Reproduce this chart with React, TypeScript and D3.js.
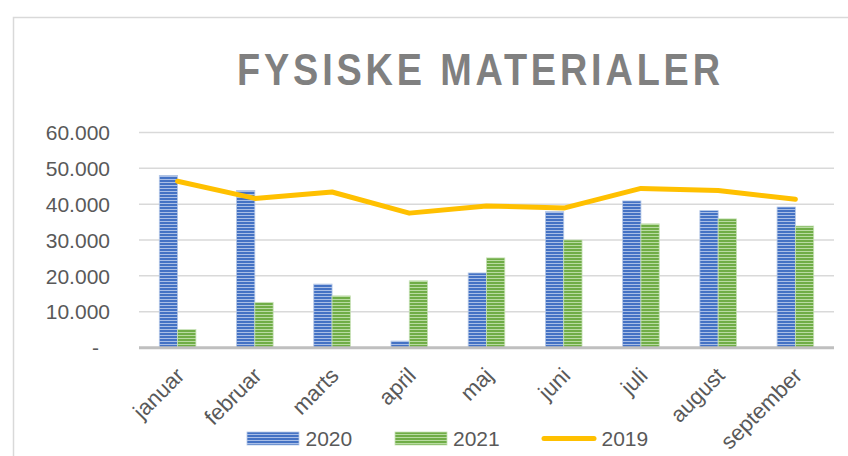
import React from "react";
import * as d3 from "d3";

const months = ["januar", "februar", "marts", "april", "maj", "juni", "juli", "august", "september"];
const values2020 = [48000, 43800, 17700, 1800, 20800, 37900, 40900, 38200, 39200];
const values2021 = [5000, 12600, 14400, 18600, 25000, 30000, 34500, 35900, 33900];
const values2019 = [46400, 41600, 43400, 37500, 39500, 38900, 44400, 43800, 41400];
const yTicks = [0, 10000, 20000, 30000, 40000, 50000, 60000];
const barSeries = ["2020", "2021"];
const title = "FYSISKE MATERIALER";

const W = 848;
const H = 456;
const plotLeft = 139;
const plotRight = 834;
const plotTop = 132.5;
const plotBottom = 347.5;

const FONT = "'Liberation Sans', Arial, sans-serif";
const TEXT = "#595959";

const locale = d3.formatLocale({ decimal: ",", thousands: ".", grouping: [3], currency: ["", ""] });
const fmt = locale.format(",.0f");

export default function App() {
  const x = d3.scaleBand<string>().domain(months).range([plotLeft, plotRight]).paddingInner(0).paddingOuter(0);
  const y = d3.scaleLinear().domain([0, 60000]).range([plotBottom, plotTop]);
  const bw = x.bandwidth() * 0.237;
  const x1 = d3.scaleBand<string>().domain(barSeries).range([-bw, bw]);
  const center = (m: string) => (x(m) as number) + x.bandwidth() / 2;

  const line = d3
    .line<number>()
    .x((_, i) => center(months[i]))
    .y((d) => y(d));

  const seriesData: Record<string, number[]> = { "2020": values2020, "2021": values2021 };
  const fills: Record<string, string> = { "2020": "url(#pBlue)", "2021": "url(#pGreen)" };
  const strokes: Record<string, string> = { "2020": "#B4C7E7", "2021": "#C5E0B4" };

  const titleCx = 478.5;
  const titleSx = 0.86;

  return (
    <div style={{ position: "fixed", left: 0, top: 0, width: W, height: H, background: "#fff" }}>
      <svg width={W} height={H} style={{ display: "block" }}>
        <defs>
          <pattern id="pBlue" width={6} height={3} patternUnits="userSpaceOnUse">
            <rect width={6} height={3} fill="#4472C4" />
            <rect y={2} width={6} height={1} fill="#A9BEE6" />
          </pattern>
          <pattern id="pGreen" width={6} height={3} patternUnits="userSpaceOnUse">
            <rect width={6} height={3} fill="#70AD47" />
            <rect y={2} width={6} height={1} fill="#B9DBA2" />
          </pattern>
        </defs>
        <rect x={0} y={0} width={W} height={H} fill="#fff" />
        <rect x={13.5} y={17.5} width={W + 20} height={H + 20} fill="none" stroke="#D9D9D9" strokeWidth={1.5} />

        <g transform={`translate(${titleCx} 0) scale(${titleSx} 1)`}>
          <text
            x={0}
            y={85}
            textAnchor="middle"
            fontFamily={FONT}
            fontWeight="bold"
            fontSize={44}
            fill="#808080"
            textLength={483 / titleSx}
            lengthAdjust="spacing"
          >
            {title}
          </text>
        </g>

        {yTicks.map((t) =>
          t === 0 ? null : (
            <line key={"g" + t} x1={plotLeft} x2={plotRight} y1={y(t)} y2={y(t)} stroke="#D9D9D9" strokeWidth={1.5} />
          )
        )}
        {yTicks.map((t) => (
          <text
            key={"t" + t}
            x={t === 0 ? 99 : 110}
            y={y(t) + 7.7}
            textAnchor="end"
            fontFamily={FONT}
            fontSize={21}
            fill={TEXT}
          >
            {t === 0 ? "-" : fmt(t)}
          </text>
        ))}

        {barSeries.map((s) =>
          months.map((m, i) => {
            const v = seriesData[s][i];
            const bx = center(m) + (x1(s) as number);
            return (
              <rect
                key={s + m}
                x={bx}
                y={y(v)}
                width={x1.bandwidth()}
                height={plotBottom - y(v)}
                fill={fills[s]}
                stroke={strokes[s]}
                strokeWidth={0.8}
              />
            );
          })
        )}

        <line x1={plotLeft} x2={plotRight} y1={347.7} y2={347.7} stroke="#BFBFBF" strokeWidth={3} />

        <path
          d={line(values2019) || ""}
          fill="none"
          stroke="#FFC000"
          strokeWidth={5}
          strokeLinejoin="round"
          strokeLinecap="round"
        />

        {months.map((m) => {
          const px = center(m) + 8;
          const py = 377;
          return (
            <text
              key={"x" + m}
              x={px}
              y={py}
              transform={`rotate(-45 ${px} ${py})`}
              textAnchor="end"
              fontFamily={FONT}
              fontSize={22}
              fill={TEXT}
            >
              {m}
            </text>
          );
        })}

        <g>
          <rect x={247} y={432} width={52} height={13} fill="url(#pBlue)" stroke="#B4C7E7" strokeWidth={0.8} />
          <text x={305.5} y={446} fontFamily={FONT} fontSize={21} fill={TEXT}>2020</text>
          <rect x={395} y={432} width={52} height={13} fill="url(#pGreen)" stroke="#C5E0B4" strokeWidth={0.8} />
          <text x={453} y={446} fontFamily={FONT} fontSize={21} fill={TEXT}>2021</text>
          <line x1={544} x2={594} y1={438.5} y2={438.5} stroke="#FFC000" strokeWidth={5} strokeLinecap="round" />
          <text x={601.5} y={446} fontFamily={FONT} fontSize={21} fill={TEXT}>2019</text>
        </g>
      </svg>
    </div>
  );
}
